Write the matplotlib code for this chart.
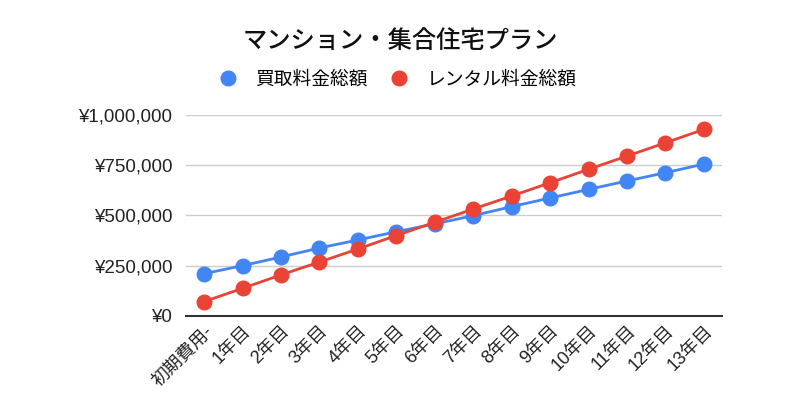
import matplotlib
matplotlib.use("Agg")
import matplotlib.pyplot as plt
from matplotlib.ticker import FuncFormatter

plt.rcParams['font.family'] = ['Liberation Sans', 'Noto Sans CJK JP', 'DejaVu Sans']

categories = ['初期費用', '1年目', '2年目', '3年目', '4年目', '5年目', '6年目',
              '7年目', '8年目', '9年目', '10年目', '11年目', '12年目', '13年目']
purchase = [210000, 250000, 293000, 338000, 378000, 419000, 458000,
            499000, 544000, 587000, 630000, 672000, 713000, 756000]
rental = [71000, 137000, 204000, 268000, 333000, 400000, 466000,
          532000, 597000, 663000, 730000, 796000, 862000, 929000]
series_names = ['買取料金総額', 'レンタル料金総額']
yticks = [0, 250000, 500000, 750000, 1000000]

blue = '#4285F4'
red = '#EA4335'

fig = plt.figure(figsize=(8, 4.2), dpi=100)
ax = fig.add_axes([0.2325, 0.248, 0.67, 0.478])

x = list(range(len(categories)))
ax.plot(x, purchase, color=blue, lw=2, marker='o', ms=10.5, label=series_names[0], zorder=3)
ax.plot(x, rental, color=red, lw=2, marker='o', ms=10.5, label=series_names[1], zorder=4)

ax.set_xlim(-0.47, len(categories) - 0.53)
ax.set_ylim(0, 1000000)
ax.set_yticks(yticks)
ax.yaxis.set_major_formatter(FuncFormatter(lambda v, p: '¥{:,.0f}'.format(v)))
ax.grid(axis='y', color='#cccccc', lw=1)
ax.set_axisbelow(True)
for s in ['top', 'right', 'left']:
    ax.spines[s].set_visible(False)
ax.spines['bottom'].set_color('#333333')
ax.spines['bottom'].set_linewidth(1.5)
ax.spines['bottom'].set_zorder(2)
ax.tick_params(axis='both', length=0, labelsize=13.5, colors='#222222', pad=10)
ax.set_xticks(x)
ax.set_xticklabels([c + ('-' if i == 0 else '') for i, c in enumerate(categories)],
                   rotation=45, ha='right', rotation_mode='anchor', fontsize=13)
ax.tick_params(axis='x', pad=5)

fig.text(0.5, 0.902, 'マンション・集合住宅プラン', ha='center', va='center', fontsize=17.5,
         color='#111111', family=['Noto Sans CJK JP', 'DejaVu Sans'], weight='medium')
fig.legend(loc='center', bbox_to_anchor=(0.497, 0.81), ncol=2, frameon=False,
           fontsize=13.5, handlelength=1.0, handletextpad=0.95, columnspacing=1.2,
           markerscale=1.0)
leg = fig.legends[0]
for h in leg.legend_handles:
    h.set_linestyle('')

fig.savefig('out.png', dpi=100)
